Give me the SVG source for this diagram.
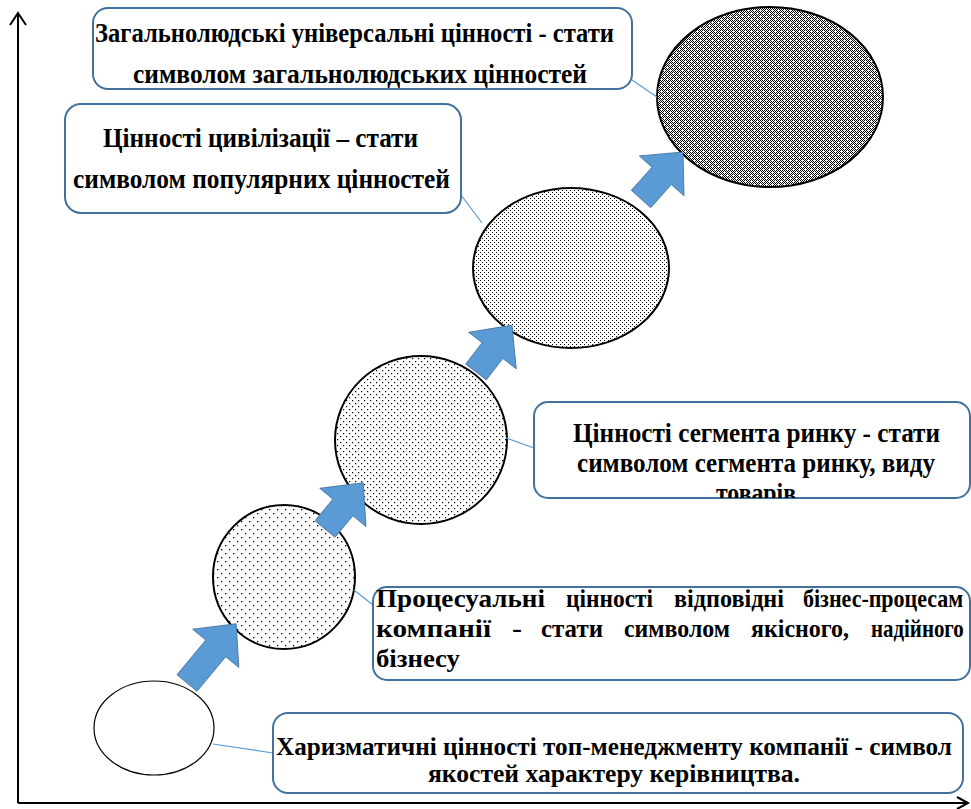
<svg xmlns="http://www.w3.org/2000/svg" width="971" height="809" viewBox="0 0 971 809">
<style>
.box{fill:#fff;stroke:#41719C;stroke-width:2}
text{font-family:"Liberation Serif","DejaVu Serif",serif;font-weight:bold;fill:#000}
.t27{font-size:27px}
.t25{font-size:25px}
.ell{stroke:#000;stroke-width:2}
.arr{fill:#5B9BD5;stroke:#41719C;stroke-width:0.8}
.lead{stroke:#5B9BD5;stroke-width:1.2;fill:none}
.axis{stroke:#000;stroke-width:2;fill:none}
</style>
<defs>
<pattern id="p1" width="8" height="8" patternUnits="userSpaceOnUse"><rect width="8" height="8" fill="#fff"/><rect x="1" y="1" width="1.3" height="1.3" fill="#000"/><rect x="5" y="5" width="1.3" height="1.3" fill="#000"/></pattern>
<pattern id="p2" width="6" height="6" patternUnits="userSpaceOnUse"><rect width="6" height="6" fill="#fff"/><rect x="1" y="1" width="1.2" height="1.2" fill="#000"/><rect x="4" y="4" width="1.2" height="1.2" fill="#000"/></pattern>
<pattern id="p3" width="4" height="4" patternUnits="userSpaceOnUse"><rect width="4" height="4" fill="#fff"/><rect x="0" y="0" width="1" height="1" fill="#000"/><rect x="2" y="2" width="1" height="1" fill="#000"/></pattern>
<pattern id="p4" width="6" height="6" patternUnits="userSpaceOnUse"><rect width="6" height="6" fill="#fff"/><path d="M0 .5H6M1 1.5H6M0 2.5H6M1 3.5H6M0 4.5H6M1 5.5H6" stroke="#000" stroke-width="1" stroke-dasharray="1 1"/><circle cx="1.5" cy="1.5" r="0.8" fill="#fff"/><circle cx="4.5" cy="4.5" r="0.8" fill="#fff"/></pattern>
<clipPath id="c3"><rect x="534" y="402" width="436" height="96" rx="14"/></clipPath>
</defs>

<g id="axes">
<path class="axis" d="M18 803V13M10 25L18 13L26 25"/>
<path class="axis" d="M18 803H967M957 797L968 803L957 809"/>
</g>

<g id="e1"><ellipse cx="154" cy="728" rx="60" ry="47" fill="#fff" stroke="#000" stroke-width="1.2"/></g>
<g id="e2"><ellipse class="ell" cx="284" cy="577" rx="71" ry="72" fill="url(#p1)"/></g>
<g id="e3"><ellipse class="ell" cx="421" cy="440" rx="86" ry="84" fill="url(#p2)"/></g>
<g id="e4"><ellipse class="ell" cx="571" cy="268" rx="98" ry="80" fill="url(#p3)"/></g>
<g id="e5"><ellipse class="ell" cx="770" cy="97" rx="113" ry="90" fill="url(#p4)"/></g>

<g id="connectors">
<polygon class="arr" transform="translate(187 683) rotate(-50.3)" points="0,-13 45,-13 45,-30 77,0 45,30 45,13 0,13"/>
<polygon class="arr" transform="translate(325 529) rotate(-50.4)" points="0,-13 28,-13 28,-30 60,0 28,30 28,13 0,13"/>
<polygon class="arr" transform="translate(476 372) rotate(-52.5)" points="0,-13 27,-13 27,-30 59,0 27,30 27,13 0,13"/>
<polygon class="arr" transform="translate(641 199) rotate(-48.2)" points="0,-13 31,-13 31,-30 63,0 31,30 31,13 0,13"/>
<path class="lead" d="M632 80L657 97"/>
<path class="lead" d="M461 195L482 223"/>
<path class="lead" d="M506 438L534 448"/>
<path class="lead" d="M354 590L373 605"/>
<path class="lead" d="M213 744L273 753"/>
</g>

<g id="b1">
<rect class="box" x="93" y="8" width="539" height="81" rx="15"/>
<text class="t27" x="95" y="42" textLength="519" lengthAdjust="spacingAndGlyphs">Загальнолюдські універсальні цінності - стати</text>
<text class="t27" x="133" y="83" textLength="454" lengthAdjust="spacingAndGlyphs">символом загальнолюдських цінностей</text>
</g>

<g id="b2">
<rect class="box" x="65" y="104" width="396" height="109" rx="16"/>
<text class="t27" x="103" y="147" textLength="315" lengthAdjust="spacingAndGlyphs">Цінності цивілізації – стати</text>
<text class="t27" x="73" y="188" textLength="377" lengthAdjust="spacingAndGlyphs">символом популярних цінностей</text>
</g>

<g id="b3">
<rect class="box" x="534" y="402" width="436" height="96" rx="14"/>
<text class="t27" x="573" y="442" textLength="367" lengthAdjust="spacingAndGlyphs">Цінності сегмента ринку - стати</text>
<text class="t27" x="577" y="472" textLength="358" lengthAdjust="spacingAndGlyphs">символом сегмента ринку, виду</text>
<text class="t27" x="716" y="502" textLength="80" lengthAdjust="spacingAndGlyphs" clip-path="url(#c3)">товарів</text>
</g>

<g id="b4">
<rect class="box" x="373" y="587" width="597" height="93" rx="14"/>
<text class="t25" x="376" y="607" textLength="169" lengthAdjust="spacingAndGlyphs">Процесуальні</text>
<text class="t25" x="566" y="607" textLength="87" lengthAdjust="spacingAndGlyphs">цінності</text>
<text class="t25" x="674" y="607" textLength="110" lengthAdjust="spacingAndGlyphs">відповідні</text>
<text class="t25" transform="translate(803 607) scale(0.88 1)">бізнес-процесам</text>
<text class="t25" x="376" y="637" textLength="115" lengthAdjust="spacingAndGlyphs">компанії</text>
<text class="t25" x="512" y="637" textLength="10" lengthAdjust="spacingAndGlyphs">-</text>
<text class="t25" x="541" y="637" textLength="62" lengthAdjust="spacingAndGlyphs">стати</text>
<text class="t25" x="624" y="637" textLength="106" lengthAdjust="spacingAndGlyphs">символом</text>
<text class="t25" x="751" y="637" textLength="98" lengthAdjust="spacingAndGlyphs">якісного,</text>
<text class="t25" transform="translate(871 637) scale(0.836 1)">надійного</text>
<text class="t25" x="376" y="667" textLength="84" lengthAdjust="spacingAndGlyphs">бізнесу</text>
</g>

<g id="b5">
<rect class="box" x="273" y="713" width="690" height="80" rx="15"/>
<text class="t25" x="276" y="755" textLength="676" lengthAdjust="spacingAndGlyphs">Харизматичні цінності топ-менеджменту компанії - символ</text>
<text class="t25" x="428" y="782" textLength="372" lengthAdjust="spacingAndGlyphs">якостей характеру керівництва.</text>
</g>
</svg>
